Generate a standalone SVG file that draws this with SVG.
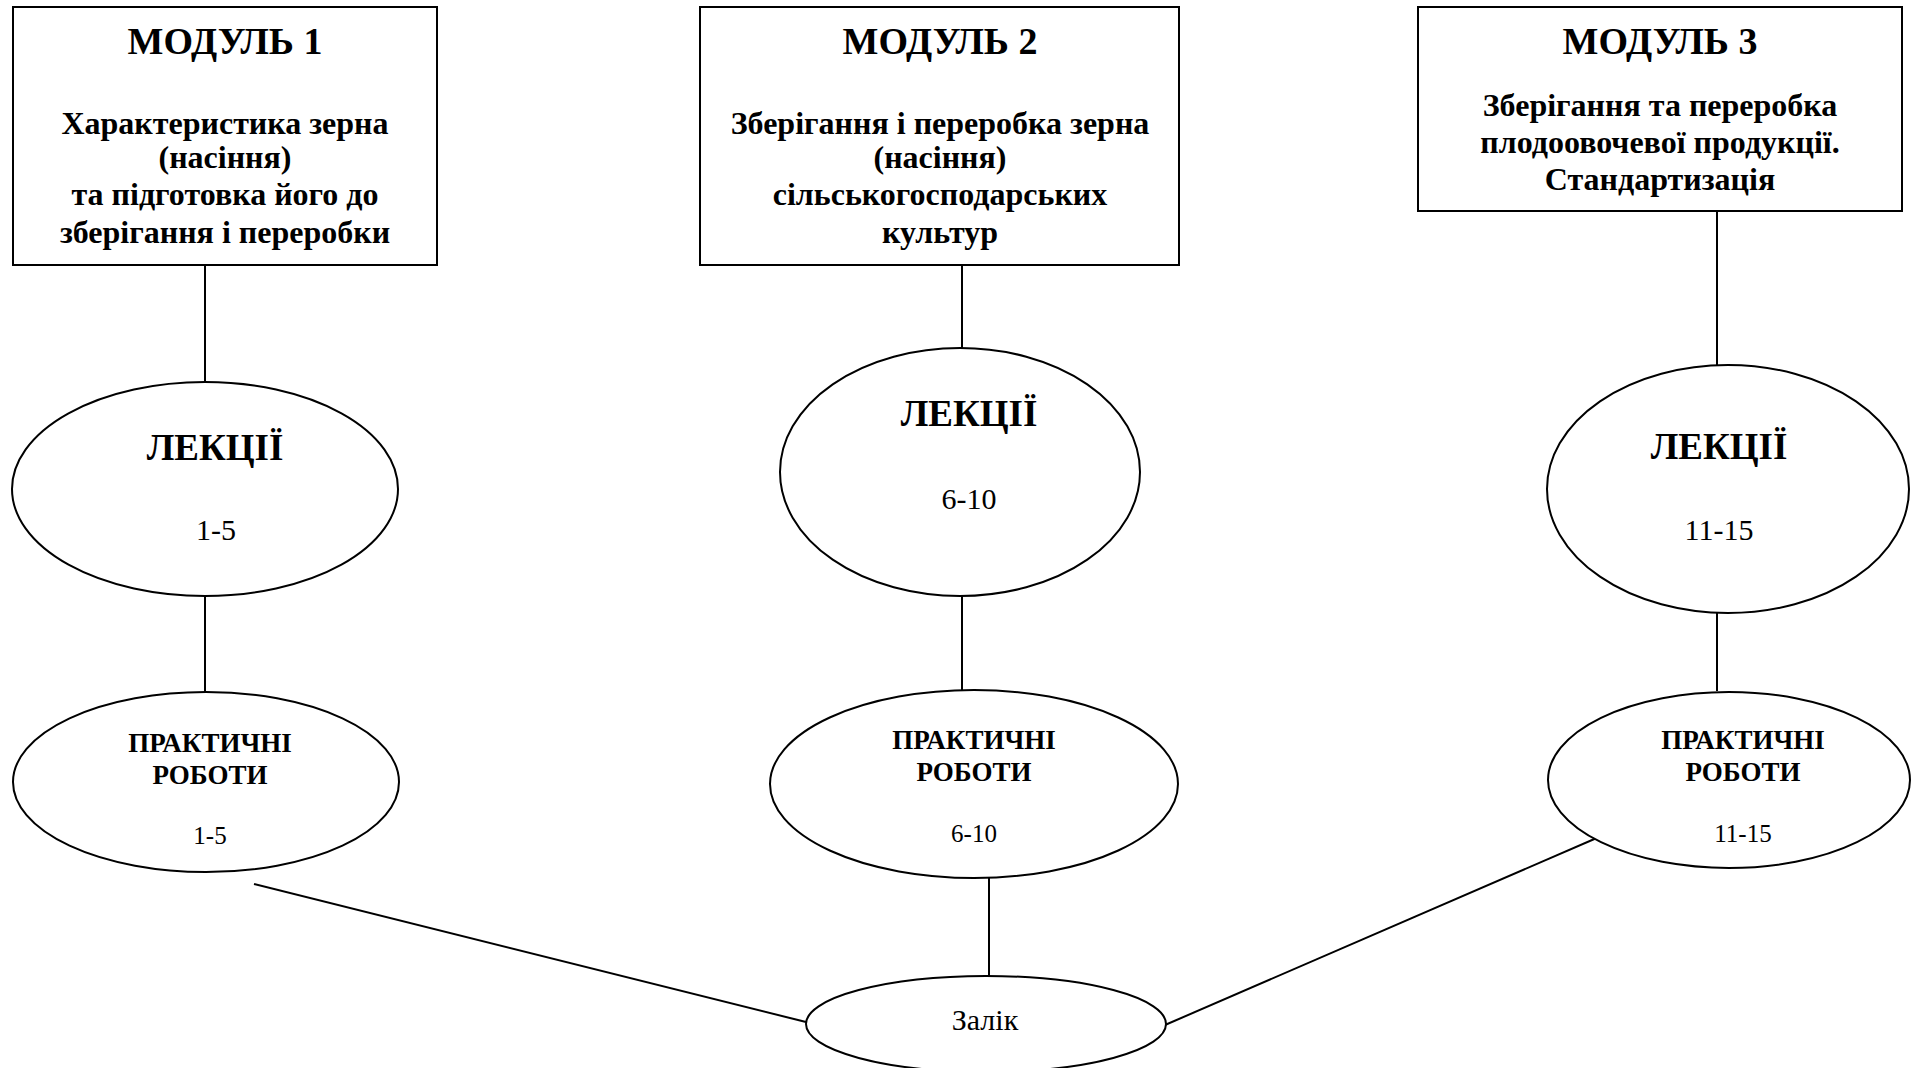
<svg xmlns="http://www.w3.org/2000/svg" width="1914" height="1068" viewBox="0 0 1914 1068">
<style>
.shape{fill:#fff;stroke:#000;stroke-width:2}
.conn line{stroke:#000;stroke-width:2}
text{font-family:"Liberation Serif","Times New Roman",serif;fill:#000;text-anchor:middle}
.h{font-weight:bold;font-size:38px}
.b{font-weight:bold;font-size:32px}
.lec{font-weight:bold;font-size:37px}
.ln{font-size:30px}
.pr{font-weight:bold;font-size:27px}
.pn{font-size:25px}
.z{font-size:30px}
</style>
<rect width="1914" height="1068" fill="#fff"/>
<g id="connectors" class="conn">
<line x1="205" y1="265" x2="205" y2="383"/>
<line x1="205" y1="596" x2="205" y2="692"/>
<line x1="962" y1="265" x2="962" y2="348"/>
<line x1="962" y1="596" x2="962" y2="690"/>
<line x1="1717" y1="211" x2="1717" y2="365"/>
<line x1="1717" y1="613" x2="1717" y2="691"/>
<line x1="254" y1="884" x2="806" y2="1022"/>
<line x1="989" y1="878" x2="989" y2="976"/>
<line x1="1165" y1="1025" x2="1599" y2="837"/>
</g>
<g id="module1">
<rect class="shape" x="13" y="7" width="424" height="258"/>
<text class="h" x="225" y="54">МОДУЛЬ 1</text>
<text class="b" x="225" y="134">Характеристика зерна</text>
<text class="b" x="225" y="168">(насіння)</text>
<text class="b" x="225" y="205">та підготовка його до</text>
<text class="b" x="225" y="243">зберігання і переробки</text>
</g>
<g id="module2">
<rect class="shape" x="700" y="7" width="479" height="258"/>
<text class="h" x="940" y="54">МОДУЛЬ 2</text>
<text class="b" x="940" y="134">Зберігання і переробка зерна</text>
<text class="b" x="940" y="168">(насіння)</text>
<text class="b" x="940" y="205">сільськогосподарських</text>
<text class="b" x="940" y="243">культур</text>
</g>
<g id="module3">
<rect class="shape" x="1418" y="7" width="484" height="204"/>
<text class="h" x="1660" y="54">МОДУЛЬ 3</text>
<text class="b" x="1660" y="116">Зберігання та переробка</text>
<text class="b" x="1660" y="153">плодоовочевої продукції.</text>
<text class="b" x="1660" y="190">Стандартизація</text>
</g>
<g id="lectures1">
<ellipse class="shape" cx="205" cy="489" rx="193" ry="107"/>
<text class="lec" x="215" y="460">ЛЕКЦІЇ</text>
<text class="ln" x="216" y="540">1-5</text>
</g>
<g id="lectures2">
<ellipse class="shape" cx="960" cy="472" rx="180" ry="124"/>
<text class="lec" x="969" y="426">ЛЕКЦІЇ</text>
<text class="ln" x="969" y="509">6-10</text>
</g>
<g id="lectures3">
<ellipse class="shape" cx="1728" cy="489" rx="181" ry="124"/>
<text class="lec" x="1719" y="459">ЛЕКЦІЇ</text>
<text class="ln" x="1719" y="540">11-15</text>
</g>
<g id="practice1">
<ellipse class="shape" cx="206" cy="782" rx="193" ry="90"/>
<text class="pr" x="210" y="752">ПРАКТИЧНІ</text>
<text class="pr" x="210" y="784">РОБОТИ</text>
<text class="pn" x="210" y="844">1-5</text>
</g>
<g id="practice2">
<ellipse class="shape" cx="974" cy="784" rx="204" ry="94"/>
<text class="pr" x="974" y="749">ПРАКТИЧНІ</text>
<text class="pr" x="974" y="781">РОБОТИ</text>
<text class="pn" x="974" y="842">6-10</text>
</g>
<g id="practice3">
<ellipse class="shape" cx="1729" cy="780" rx="181" ry="88"/>
<text class="pr" x="1743" y="749">ПРАКТИЧНІ</text>
<text class="pr" x="1743" y="781">РОБОТИ</text>
<text class="pn" x="1743" y="842">11-15</text>
</g>
<g id="zalik">
<ellipse class="shape" cx="986" cy="1024" rx="180" ry="48"/>
<text class="z" x="985" y="1030">Залік</text>
</g>
</svg>
